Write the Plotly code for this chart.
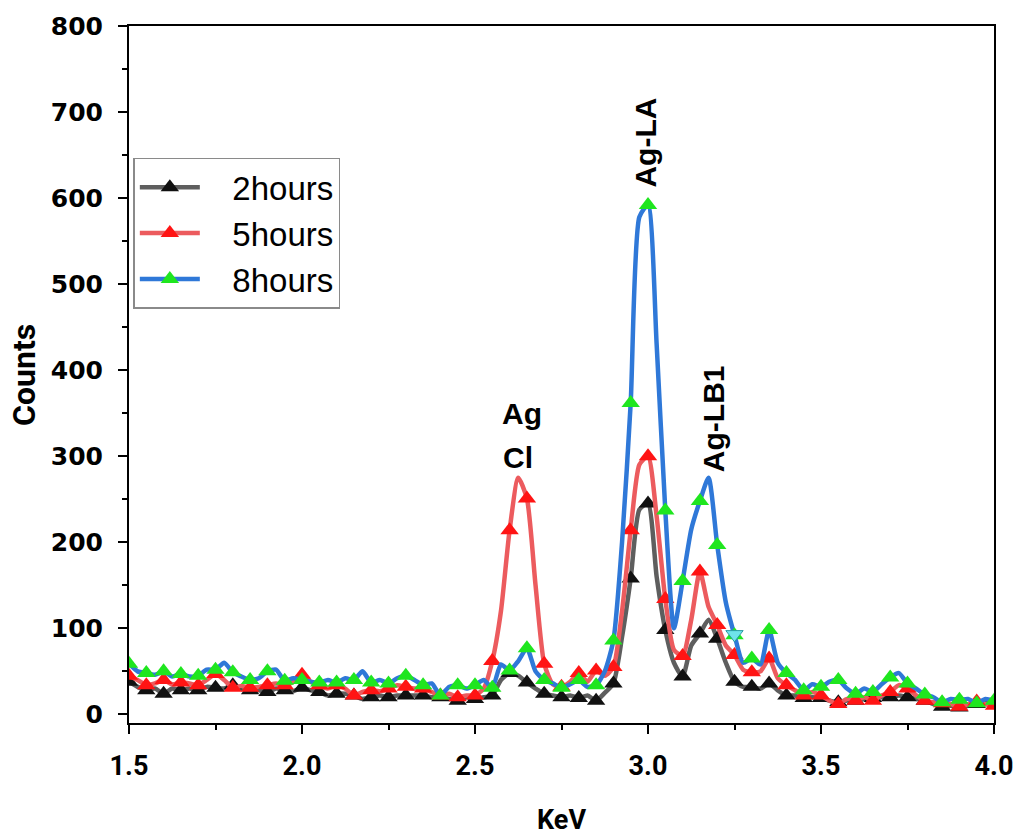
import numpy as np
import plotly.graph_objects as go

# Energy axis (keV), sampled every 0.025 keV from 1.5 to 4.0
kev = np.round(np.arange(101) * 0.025 + 1.5, 3)

counts_2h = [
    38, 32, 28, 30, 24, 30, 28, 30, 28, 32,
    31, 30, 34, 30, 28, 28, 26, 30, 28, 27,
    31, 28, 26, 22, 24, 24, 22, 18, 20, 22,
    20, 22, 22, 22, 22, 20, 20, 18, 16, 20,
    18, 20, 22, 40, 48, 45, 37, 30, 24, 22,
    20, 22, 19, 22, 16, 25, 36, 90, 158, 238,
    245, 160, 98, 60, 44, 80, 94, 110, 88, 60,
    38, 32, 32, 30, 36, 28, 22, 22, 19, 20,
    19, 16, 14, 16, 16, 18, 19, 20, 20, 22,
    20, 18, 16, 12, 9, 10, 8, 10, 12, 13,
    14,
]

counts_5h = [
    45, 40, 34, 36, 40, 35, 37, 36, 34, 40,
    47, 40, 31, 33, 31, 32, 34, 36, 34, 38,
    46, 38, 34, 30, 34, 30, 22, 26, 28, 27,
    30, 34, 32, 30, 30, 26, 22, 24, 20, 22,
    22, 30, 62, 120, 214, 275, 251, 150, 59, 35,
    32, 38, 48, 38, 51, 45, 55, 120, 214, 290,
    300, 230, 134, 75, 68, 110, 166, 125, 104, 80,
    69, 52, 49, 50, 65, 42, 34, 28, 22, 26,
    22, 16, 12, 18, 16, 20, 16, 22, 26, 34,
    30, 22, 16, 14, 13, 12, 9, 12, 15, 12,
    10,
]

counts_8h = [
    59, 50, 48, 46, 50, 44, 47, 44, 45, 52,
    52, 60, 49, 44, 40, 42, 50, 52, 39, 42,
    40, 38, 37, 40, 37, 42, 40, 50, 37, 40,
    36, 42, 45, 40, 34, 36, 22, 32, 34, 30,
    34, 40, 31, 58, 51, 62, 77, 50, 40, 36,
    31, 35, 40, 32, 34, 50, 86, 200, 362, 578,
    592, 430, 237, 100, 155, 215, 248, 275, 197, 130,
    92, 60, 65, 58, 98, 60, 48, 40, 28, 35,
    32, 38, 40, 30, 24, 30, 26, 35, 43, 48,
    36, 30, 23, 20, 14, 18, 17, 18, 13, 18,
    16,
]

series_names = ["2hours", "5hours", "8hours"]
line_colors = ["#5e5e5e", "#ec5b5e", "#2f78d8"]
marker_colors = ["#111111", "#ff1414", "#1fe61f"]

# Extra marker left by the acquisition software on the 8 h curve
flag_kev = [3.25]
flag_counts = [93]

# Peak labels
peak_labels = ["Ag", "Cl", "Ag-LA", "Ag-LB1"]
peak_kev = [2.636, 2.625, 2.99, 3.19]
peak_counts = [350, 299, 664, 344]
peak_angles = [0, 0, -90, -90]

fig = go.Figure()

for name, y, lc, mc in zip(series_names, [counts_2h, counts_5h, counts_8h],
                           line_colors, marker_colors):
    y = np.asarray(y, dtype=float)
    fig.add_trace(go.Scatter(
        x=kev, y=y, mode="lines", showlegend=False, hoverinfo="skip",
        line=dict(color=lc, width=4.5, shape="spline", smoothing=0.6),
    ))
    fig.add_trace(go.Scatter(
        x=kev[::2], y=y[::2], mode="markers", showlegend=False, name=name,
        marker=dict(symbol="triangle-up", size=16, color=mc),
    ))
    # legend entry: line with a marker, text pushed right of the sample
    fig.add_trace(go.Scatter(
        x=[None], y=[None], mode="lines+markers",
        name="\u00a0\u00a0\u00a0" + name,
        line=dict(color=lc, width=4.5),
        marker=dict(symbol="triangle-up", size=16, color=mc),
    ))

fig.add_trace(go.Scatter(
    x=flag_kev, y=flag_counts, mode="markers", showlegend=False,
    marker=dict(symbol="triangle-down", size=15, color="#6fe3ea",
                line=dict(color="#2a9aa3", width=1)),
))

for text, xv, yv, ang in zip(peak_labels, peak_kev, peak_counts, peak_angles):
    fig.add_annotation(
        x=xv, y=yv, text=text, textangle=ang, showarrow=False,
        font=dict(family="Liberation Sans, Arial, sans-serif", size=30,
                  color="black", weight="bold"),
    )

tick_font_y = dict(family="DejaVu Sans, sans-serif", size=25, color="black",
                   weight="bold")
tick_font_x = dict(family="Liberation Sans Narrow, Roboto, sans-serif", size=27,
                   color="black", weight="bold")

fig.update_layout(
    width=1019, height=836,
    margin=dict(l=129, r=25, t=26, b=113, autoexpand=False),
    paper_bgcolor="white", plot_bgcolor="white",
    showlegend=True,
    legend=dict(
        x=0.005, y=0.811, xanchor="left", yanchor="top",
        bgcolor="white", bordercolor="#8a8a8a", borderwidth=1.5,
        font=dict(family="Liberation Sans, Arial, sans-serif", size=33,
                  color="black"),
        itemwidth=60, tracegroupgap=0,
    ),
    xaxis=dict(
        range=[1.5, 4.0], tickvals=[1.5, 2.0, 2.5, 3.0, 3.5, 4.0],
        ticktext=["1.5", "2.0", "2.5", "3.0", "3.5", "4.0"],
        ticks="outside", ticklen=9, tickwidth=2, tickcolor="black",
        minor=dict(dtick=0.25, tick0=1.5, ticks="outside", ticklen=5,
                   tickwidth=2, tickcolor="black"),
        showline=True, linecolor="black", linewidth=2, mirror=True,
        showgrid=False, zeroline=False, tickfont=tick_font_x,
        ticklabelstandoff=9, ticklabeloverflow="allow",
    ),
    yaxis=dict(
        range=[-10, 800], tickvals=list(range(0, 801, 100)),
        ticks="outside", ticklen=9, tickwidth=2, tickcolor="black",
        minor=dict(dtick=50, tick0=0, ticks="outside", ticklen=5,
                   tickwidth=2, tickcolor="black"),
        showline=True, linecolor="black", linewidth=2, mirror=True,
        showgrid=False, zeroline=False, tickfont=tick_font_y,
        ticklabelstandoff=10,
    ),
)

title_font = dict(family="Liberation Sans Narrow, Roboto, sans-serif", size=27,
                  color="black", weight="bold")
fig.add_annotation(text="KeV", xref="paper", yref="paper", x=0.5, y=-0.139,
                   xanchor="center", yanchor="middle", showarrow=False,
                   font=title_font)
fig.add_annotation(text="Counts", xref="paper", yref="paper", x=-0.122, y=0.5,
                   xanchor="center", yanchor="middle", textangle=-90,
                   showarrow=False,
                   font=dict(family="Liberation Sans Narrow, Roboto, sans-serif",
                             size=32, color="black", weight="bold"))

fig.write_html("out.html")
